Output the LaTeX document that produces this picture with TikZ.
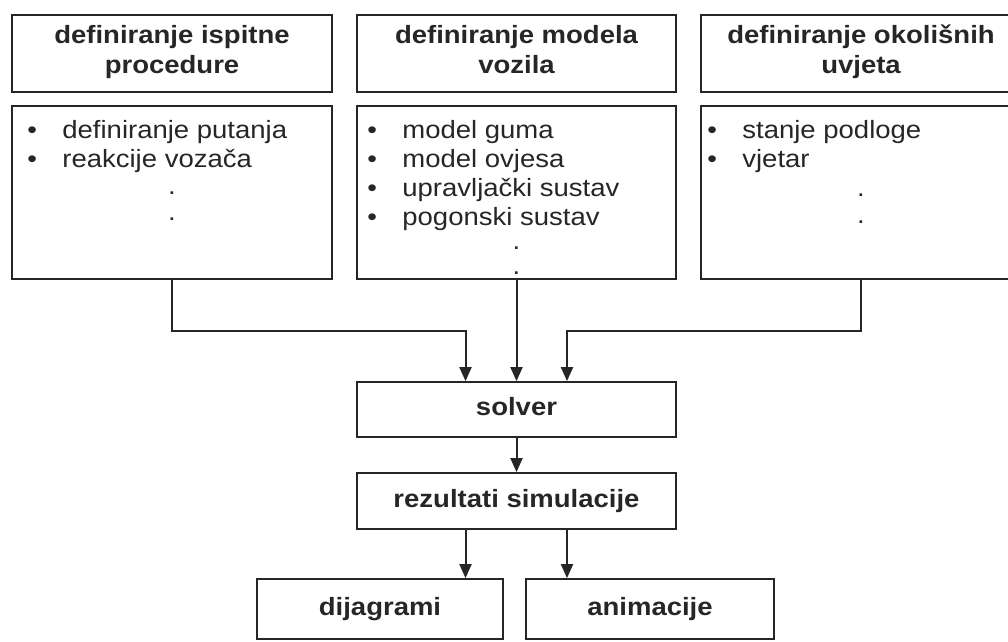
\documentclass[tikz,border=0pt]{standalone}
\usepackage{fontspec}
\setmainfont[FakeStretch=1.1]{Liberation Sans}
\usetikzlibrary{arrows.meta}
\definecolor{ink}{RGB}{38,38,38}
\newcommand{\boxfont}{\fontsize{25}{30}\selectfont}
\newcommand{\itm}[1]{\makebox[35pt][l]{•}#1}

\begin{document}
\begin{tikzpicture}
        [x=1pt,y=-1pt,
         box/.style={draw=ink,line width=1.8pt,inner sep=0pt,
                     text=ink,font=\boxfont\bfseries,align=center,
                     execute at begin node=\strut,execute at end node=\strut},
         item/.style={anchor=base west,inner sep=0pt,text=ink,font=\boxfont},
         dot/.style={anchor=base,inner sep=0pt,text=ink,font=\boxfont},
         flowline/.style={draw=ink,line width=2pt,-{Triangle[length=14pt,width=12pt]}}]
        \useasboundingbox (0,0) rectangle (1008,641);

        % gornji red
        \node[box,minimum width=320,minimum height=77] (hd1) at (172,53.5) {definiranje ispitne\\procedure};
        \node[box,minimum width=319,minimum height=77] (hd2) at (516.5,53.5) {definiranje modela\\vozila};
        \node[box,minimum width=320,minimum height=77] (hd3) at (861,53.5) {definiranje okolišnih\\uvjeta};

        \node[box,minimum width=320,minimum height=173] (body1) at (172,192.5) {};
        \node[box,minimum width=319,minimum height=173] (body2) at (516.5,192.5) {};
        \node[box,minimum width=320,minimum height=173] (body3) at (861,192.5) {};

        \node[item] (p1) at (27.2,138) {\itm{definiranje putanja}};
        \node[item] (p2) at (27.2,167) {\itm{reakcije vozača}};
        \node[dot] (pd1) at (172,194) {.};
        \node[dot] (pd2) at (172,220) {.};

        \node[item] (m1) at (367.2,138) {\itm{model guma}};
        \node[item] (m2) at (367.2,167) {\itm{model ovjesa}};
        \node[item] (m3) at (367.2,196) {\itm{upravljački sustav}};
        \node[item] (m4) at (367.2,225) {\itm{pogonski sustav}};
        \node[dot] (md1) at (516.5,249) {.};
        \node[dot] (md2) at (516.5,274) {.};

        \node[item] (o1) at (707.2,138) {\itm{stanje podloge}};
        \node[item] (o2) at (707.2,167) {\itm{vjetar}};
        \node[dot] (od1) at (861,196) {.};
        \node[dot] (od2) at (861,223) {.};

        % donji dio
        \node[box,minimum width=319,minimum height=55] (solver) at (516.5,409.5) {solver};
        \node[box,minimum width=319,minimum height=56] (res) at (516.5,501) {rezultati simulacije};
        \node[box,minimum width=246,minimum height=60] (dij) at (380,609) {dijagrami};
        \node[box,minimum width=248,minimum height=60] (ani) at (650,609) {animacije};

        \coordinate (in1) at (465.5,331);
        \coordinate (in3) at (567,331);

        \draw[flowline] (body1.south) |- (in1) -- (in1 |- solver.north);
        \draw[flowline] (body2.south) -- (solver.north);
        \draw[flowline] (body3.south) |- (in3) -- (in3 |- solver.north);
        \draw[flowline] (solver.south) -- (res.north);
        \draw[flowline] (in1 |- res.south) -- (in1 |- dij.north);
        \draw[flowline] (in3 |- res.south) -- (in3 |- ani.north);
      \end{tikzpicture}
\end{document}
